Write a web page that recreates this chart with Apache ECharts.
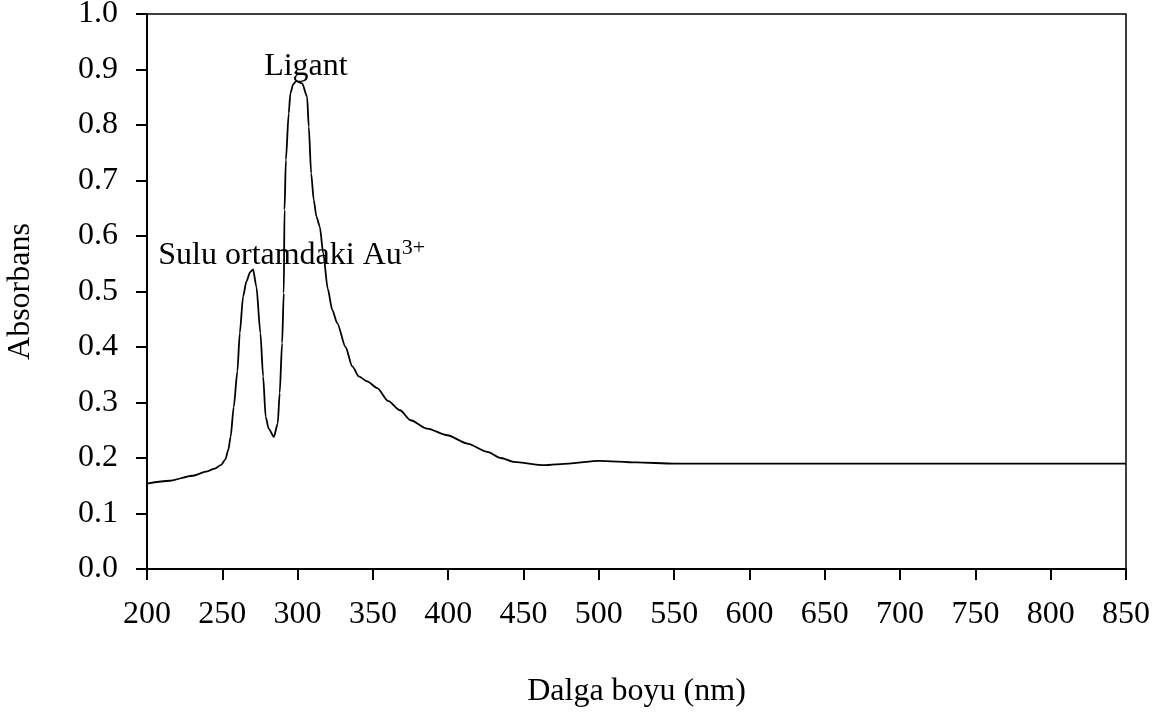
<!DOCTYPE html>
<html>
<head>
<meta charset="utf-8">
<script src="https://cdn.jsdelivr.net/npm/echarts@6/dist/echarts.min.js"></script>
<style>
html,body{margin:0;padding:0;background:#fff;}
#chart{width:1166px;height:713px;}
</style>
</head>
<body>
<div id="chart"></div>
<script>
// Data
const wavelengths = [200, 215, 230, 240, 245, 249, 252, 254, 255.5, 257.6, 260, 261.6, 263.8, 266, 268.5, 270.4, 272.6, 275.3, 277.1, 278.8, 280.8, 284.2, 286.8, 288.1, 289.7, 290.8, 291.3, 292.2, 294.1, 295.2, 297, 299, 303, 306.3, 307.4, 309, 310.7, 312.5, 314.7, 317, 320, 323, 326.3, 331.8, 336.3, 340.6, 346.2, 352.9, 360, 368, 375, 386, 399.4, 412.7, 426, 435, 443.6, 463.6, 480, 500, 525, 550, 600, 700, 850];
const absorbance = [0.154, 0.159, 0.168, 0.176, 0.181, 0.187, 0.197, 0.215, 0.238, 0.292, 0.356, 0.425, 0.491, 0.518, 0.535, 0.540, 0.509, 0.425, 0.347, 0.274, 0.253, 0.238, 0.262, 0.317, 0.407, 0.497, 0.647, 0.737, 0.821, 0.857, 0.873, 0.879, 0.875, 0.851, 0.797, 0.713, 0.665, 0.635, 0.617, 0.569, 0.505, 0.467, 0.443, 0.400, 0.365, 0.347, 0.338, 0.326, 0.303, 0.286, 0.268, 0.253, 0.241, 0.226, 0.211, 0.200, 0.193, 0.187, 0.190, 0.195, 0.192, 0.190, 0.190, 0.190, 0.190];
const xTicks = [200, 850, 50];   // min, max, interval
const yTicks = [0, 1, 0.1];
const xTitle = 'Dalga boyu (nm)';
const yTitle = 'Absorbans';
const annLigant = {text: 'Ligant', x: 305.5, y: 0.905};
const annAu = {text: 'Sulu ortamdaki Au', sup: '3+', x: 207.5, y: 0.565};

const FONT = 'Liberation Serif';
const chart = echarts.init(document.getElementById('chart'), null, {renderer: 'canvas'});
const seriesData = wavelengths.map((w, i) => [w, absorbance[i]]);

chart.setOption({
  backgroundColor: '#fff',
  animation: false,
  textStyle: {fontFamily: FONT, color: '#000'},
  grid: {left: 147, right: 40, top: 14, bottom: 144, show: true, borderColor: '#000', borderWidth: 1.5, backgroundColor: 'transparent', containLabel: false, outerBoundsMode: 'none'},
  xAxis: {
    type: 'value', min: xTicks[0], max: xTicks[1], interval: xTicks[2],
    name: xTitle, nameLocation: 'middle', nameGap: 107,
    nameTextStyle: {fontFamily: FONT, fontSize: 32, color: '#000'},
    axisLine: {show: true, onZero: false, lineStyle: {color: '#000', width: 2}},
    axisTick: {show: true, inside: false, length: 11, lineStyle: {color: '#000', width: 2}},
    axisLabel: {fontFamily: FONT, fontSize: 32, color: '#000', margin: 30},
    splitLine: {show: false}
  },
  yAxis: {
    type: 'value', min: yTicks[0], max: yTicks[1], interval: yTicks[2],
    name: yTitle, nameLocation: 'middle', nameGap: 110, nameRotate: 90,
    nameTextStyle: {fontFamily: FONT, fontSize: 32, color: '#000'},
    axisLine: {show: true, onZero: false, lineStyle: {color: '#000', width: 2}},
    axisTick: {show: true, inside: false, length: 11, lineStyle: {color: '#000', width: 2}},
    axisLabel: {fontFamily: FONT, fontSize: 32, color: '#000', margin: 29, formatter: v => v.toFixed(1)},
    splitLine: {show: false}
  },
  series: [{
    type: 'line',
    data: seriesData,
    showSymbol: false,
    smooth: 0.25,
    smoothMonotone: 'x',
    lineStyle: {color: '#000', width: 1.8},
    markPoint: {
      symbol: 'circle', symbolSize: 0,
      silent: true,
      data: [
        {coord: [annLigant.x, annLigant.y], label: {show: true, position: 'inside', align: 'center', verticalAlign: 'middle', formatter: annLigant.text, fontFamily: FONT, fontSize: 32, color: '#000'}},
        {coord: [annAu.x, annAu.y], label: {show: true, position: 'inside', align: 'left', verticalAlign: 'middle',
          formatter: '{a|' + annAu.text + '}{s|' + annAu.sup + '}',
          rich: {
            a: {fontFamily: FONT, fontSize: 32, color: '#000', lineHeight: 36},
            s: {fontFamily: FONT, fontSize: 22, color: '#000', verticalAlign: 'top', lineHeight: 36, padding: [0, 0, 18, 0]}
          }}}
      ]
    }
  }]
});
</script>
</body>
</html>
